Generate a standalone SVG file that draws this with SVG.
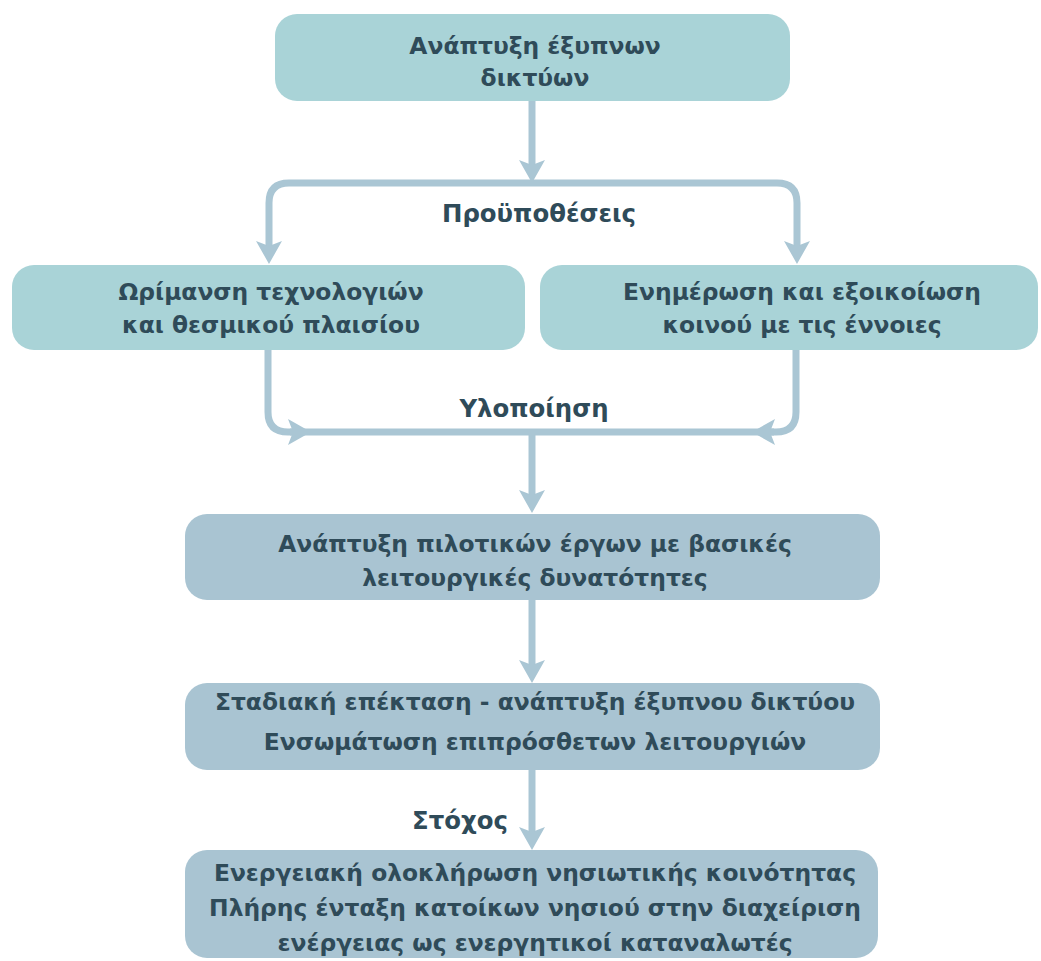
<svg xmlns="http://www.w3.org/2000/svg" width="1041" height="961" viewBox="0 0 1041 961">
  <defs>
    <style>
      .teal { fill: #a9d3d7; }
      .slate { fill: #a9c4d2; }
      .conn { fill: none; stroke: #aac6d4; stroke-width: 7; }
      text { font-family: "DejaVu Sans", "Liberation Sans", sans-serif; font-weight: bold; fill: #2f4b59; text-anchor: middle; }
      .t { font-size: 23.4px; }
      .lbl { font-size: 24.4px; }
    </style>
    <marker id="head" markerUnits="userSpaceOnUse" markerWidth="24" markerHeight="26" viewBox="0 0 24 26" refX="8" refY="13" orient="auto">
      <path d="M0,0 L23,13 L0,26 L5,13 Z" fill="#aac6d4"/>
    </marker>
  </defs>

  <rect width="1041" height="961" fill="#ffffff"/>

  <!-- connectors -->
  <g id="connectors">
    <path class="conn" d="M532,101 V168" marker-end="url(#head)"/>
    <path class="conn" d="M532,183 H289 Q269,183 269,203 V249" marker-end="url(#head)"/>
    <path class="conn" d="M532,183 H777 Q797,183 797,203 V249" marker-end="url(#head)"/>
    <path class="conn" d="M268,350 V412 Q268,432 288,432 H296" marker-end="url(#head)"/>
    <path class="conn" d="M796,350 V412 Q796,432 776,432 H767" marker-end="url(#head)"/>
    <path class="conn" d="M290,432 H774"/>
    <path class="conn" d="M532,432 V498" marker-end="url(#head)"/>
    <path class="conn" d="M532,600 V668" marker-end="url(#head)"/>
    <path class="conn" d="M532,770 V835" marker-end="url(#head)"/>
    <text class="lbl" x="539" y="222">Προϋποθέσεις</text>
    <text class="lbl" x="534" y="417">Υλοποίηση</text>
    <text class="lbl" x="460" y="829">Στόχος</text>
  </g>

  <g id="node-smart-grids">
    <rect class="teal" x="275" y="14" width="515" height="87" rx="22"/>
    <text class="t" x="535" y="54">Ανάπτυξη έξυπνων</text>
    <text class="t" x="535" y="86">δικτύων</text>
  </g>

  <g id="node-maturity">
    <rect class="teal" x="12" y="265" width="513" height="85" rx="22"/>
    <text class="t" x="271" y="300">Ωρίμανση τεχνολογιών</text>
    <text class="t" x="271" y="333">και θεσμικού πλαισίου</text>
  </g>

  <g id="node-awareness">
    <rect class="teal" x="540" y="265" width="498" height="85" rx="22"/>
    <text class="t" x="802" y="300">Ενημέρωση και εξοικοίωση</text>
    <text class="t" x="802" y="333">κοινού με τις έννοιες</text>
  </g>

  <g id="node-pilots">
    <rect class="slate" x="185" y="514" width="695" height="86" rx="22"/>
    <text class="t" x="535" y="552">Ανάπτυξη πιλοτικών έργων με βασικές</text>
    <text class="t" x="535" y="586">λειτουργικές δυνατότητες</text>
  </g>

  <g id="node-expansion">
    <rect class="slate" x="185" y="683" width="695" height="87" rx="22"/>
    <text class="t" x="535" y="710">Σταδιακή επέκταση - ανάπτυξη έξυπνου δικτύου</text>
    <text class="t" x="535" y="750">Ενσωμάτωση επιπρόσθετων λειτουργιών</text>
  </g>

  <g id="node-goal">
    <rect class="slate" x="185" y="850" width="693" height="108" rx="22"/>
    <text class="t" x="535" y="881">Ενεργειακή ολοκλήρωση νησιωτικής κοινότητας</text>
    <text class="t" x="535" y="916">Πλήρης ένταξη κατοίκων νησιού στην διαχείριση</text>
    <text class="t" x="535" y="951">ενέργειας ως ενεργητικοί καταναλωτές</text>
  </g>
</svg>
